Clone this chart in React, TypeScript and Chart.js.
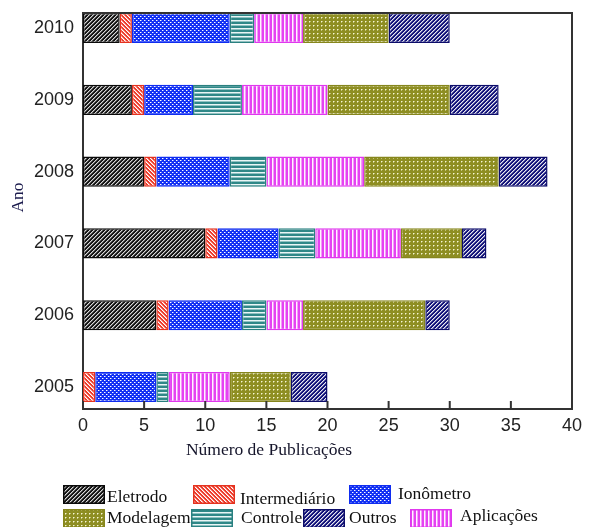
import React, { useEffect, useRef } from 'react';
import { Chart, registerables } from 'chart.js';

Chart.register(...registerables);

// ---- data ----
const years = [2005, 2006, 2007, 2008, 2009, 2010];
const eletrodo = [0, 6, 10, 5, 4, 3];
const intermediario = [1, 1, 1, 1, 1, 1];
const ionometro = [5, 6, 5, 6, 4, 8];
const controle = [1, 2, 3, 3, 4, 2];
const aplicacoes = [5, 3, 7, 8, 7, 4];
const modelagem = [5, 10, 5, 11, 10, 7];
const outros = [3, 2, 2, 4, 4, 5];
const xTickValues = [0, 5, 10, 15, 20, 25, 30, 35, 40];
const seriesNames = ['Eletrodo', 'Intermediário', 'Ionômetro', 'Controle', 'Aplicações', 'Modelagem', 'Outros'];
const seriesValues = [eletrodo, intermediario, ionometro, controle, aplicacoes, modelagem, outros];
const xTitle = 'Número de Publicações';
const yTitle = 'Ano';

// ---- styles ----
const styles = [
  { bg: '#141414', fg: '#d8d8d8', fg2: '#6a6a6a', border: '#0a0a0a', kind: 'fwd' },
  { bg: '#ee3a2a', fg: '#ffffff', fg2: '#f7a096', border: '#e5321f', kind: 'back' },
  { bg: '#1230f4', fg: '#ffffff', fg2: '#7d8ff8', border: '#0f2cf0', kind: 'dots' },
  { bg: '#2f8888', fg: '#eaf6f6', fg2: '#8fc2c2', border: '#2a8080', kind: 'hline' },
  { bg: '#e542f2', fg: '#fff4ff', fg2: '#f29cf8', border: '#e038ee', kind: 'vline' },
  { bg: '#8e8e22', fg: '#f6f6d2', fg2: '#c2c27a', border: '#86861c', kind: 'grid' },
  { bg: '#11117a', fg: '#e6e6f2', fg2: '#7a7ab0', border: '#0c0c6a', kind: 'fwd' },
];

// legend layout: [seriesIndex, boxX, boxY, boxH, textX, textBaseline]
const legendLayout = [
  [0, 63, 485, 19, 107, 502],
  [1, 193, 485, 19, 240, 504],
  [2, 349, 485, 19, 398, 499],
  [5, 63, 509, 19, 107, 523],
  [3, 191, 509, 19, 241, 523],
  [6, 303, 509, 19, 349, 523],
  [4, 410, 509, 19, 460, 521],
];

const serif = '"Liberation Serif", "Times New Roman", serif';
const sans = '"Liberation Sans", Arial, sans-serif';

function makePattern(st: any): CanvasPattern | string {
  const c = document.createElement('canvas');
  c.width = 4;
  c.height = 4;
  const g = c.getContext('2d');
  if (!g) return st.bg;
  g.fillStyle = st.bg;
  g.fillRect(0, 0, 4, 4);
  for (let y = 0; y < 4; y++) {
    for (let x = 0; x < 4; x++) {
      let on = false;
      let half = false;
      switch (st.kind) {
        case 'fwd':
          on = (x + y) % 4 === 3;
          half = (x + y) % 4 === 0;
          break;
        case 'back':
          on = (x - y + 8) % 4 === 0;
          half = (x - y + 8) % 4 === 1;
          break;
        case 'dots':
          on = (x === 0 && y === 0) || (x === 2 && y === 2);
          half = (x === 1 && y === 0) || (x === 3 && y === 2);
          break;
        case 'hline':
          on = y === 0;
          half = y === 1;
          break;
        case 'vline':
          on = x === 0;
          half = x === 1;
          break;
        case 'grid':
          on = x === 1 && y === 1;
          half = (x === 2 && y === 1) || (x === 1 && y === 2);
          break;
      }
      if (on) {
        g.fillStyle = st.fg;
        g.fillRect(x, y, 1, 1);
      } else if (half) {
        g.fillStyle = st.fg2;
        g.fillRect(x, y, 1, 1);
      }
    }
  }
  const p = g.createPattern(c, 'repeat');
  return p || st.bg;
}

export default function App() {
  const ref = useRef<HTMLCanvasElement | null>(null);

  useEffect(() => {
    const canvas = ref.current;
    if (!canvas) return;
    const patterns = styles.map((s) => makePattern(s));

    const decorPlugin = {
      id: 'decor',
      afterDraw(chart: any) {
        const ctx = chart.ctx;
        const xs = chart.scales.x;
        const ys = chart.scales.y;
        const left = xs.left;
        const right = xs.right;
        const top = ys.top;
        const bottom = ys.bottom;
        ctx.save();
        // top & right frame
        ctx.strokeStyle = '#333';
        ctx.lineWidth = 2;
        ctx.beginPath();
        ctx.moveTo(left - 1, top);
        ctx.lineTo(right, top);
        ctx.lineTo(right, bottom + 1);
        ctx.stroke();
        // inward tick marks on the x axis
        ctx.beginPath();
        xTickValues.forEach((v) => {
          const px = xs.getPixelForValue(v);
          ctx.moveTo(px, bottom);
          ctx.lineTo(px, bottom - 8);
        });
        ctx.stroke();

        // axis titles
        ctx.fillStyle = '#14142a';
        ctx.font = '17.5px ' + serif;
        ctx.textAlign = 'center';
        ctx.textBaseline = 'alphabetic';
        ctx.fillText(xTitle, 269, 455);
        ctx.save();
        ctx.translate(23, 197.5);
        ctx.rotate(-Math.PI / 2);
        ctx.fillStyle = '#1b1b4d';
        ctx.fillText(yTitle, 0, 0);
        ctx.restore();

        // legend
        ctx.textAlign = 'left';
        legendLayout.forEach(([idx, bx, by, bh, tx, tb]) => {
          const ds = chart.data.datasets[idx];
          ctx.fillStyle = ds.backgroundColor;
          ctx.fillRect(bx, by, 42, bh);
          ctx.strokeStyle = ds.borderColor;
          ctx.lineWidth = 1.5;
          ctx.strokeRect(bx + 0.75, by + 0.75, 40.5, bh - 1.5);
          ctx.fillStyle = '#111';
          ctx.font = '17.5px ' + serif;
          ctx.fillText(ds.label, tx, tb);
        });
        ctx.restore();
      },
    };

    const chart = new Chart(canvas, {
      type: 'bar',
      data: {
        labels: years,
        datasets: seriesValues.map((vals, i) => ({
          label: seriesNames[i],
          data: vals,
          backgroundColor: patterns[i] as any,
          borderColor: styles[i].border,
          borderWidth: 1.5,
          borderSkipped: false,
          barPercentage: 0.42,
          categoryPercentage: 1,
        })),
      },
      options: {
        indexAxis: 'y',
        responsive: false,
        animation: false,
        layout: { padding: { left: 0, top: 13, right: 17, bottom: 0 } },
        plugins: {
          legend: { display: false },
          tooltip: { enabled: false },
        },
        scales: {
          x: {
            type: 'linear',
            stacked: true,
            min: 0,
            max: 40,
            offset: false,
            afterBuildTicks: (s: any) => {
              s.ticks = xTickValues.map((v) => ({ value: v }));
            },
            afterFit: (s: any) => {
              s.height = 118;
              s.paddingLeft = 0;
              s.paddingRight = 0;
            },
            grid: { display: false, drawTicks: false },
            border: { display: true, color: '#333', width: 2 },
            ticks: {
              padding: 6,
              color: '#222',
              font: { family: sans, size: 18 },
              maxRotation: 0,
              callback: (v: any) => String(v),
            },
          },
          y: {
            type: 'linear',
            stacked: true,
            min: 2004.694,
            max: 2010.209,
            offset: false,
            afterBuildTicks: (s: any) => {
              s.ticks = years.map((v) => ({ value: v }));
            },
            afterFit: (s: any) => {
              s.width = 83;
              s.paddingTop = 0;
              s.paddingBottom = 0;
            },
            grid: { display: false, drawTicks: false },
            border: { display: true, color: '#333', width: 2 },
            ticks: {
              padding: 9,
              color: '#222',
              font: { family: sans, size: 18 },
              callback: (v: any) => String(v),
            },
          },
        },
      } as any,
      plugins: [decorPlugin],
    });

    return () => {
      chart.destroy();
    };
  }, []);

  return (
    <div style={{ position: 'absolute', left: 0, top: 0, width: 589, height: 527, background: '#fff' }}>
      <canvas ref={ref} width={589} height={527} />
    </div>
  );
}
